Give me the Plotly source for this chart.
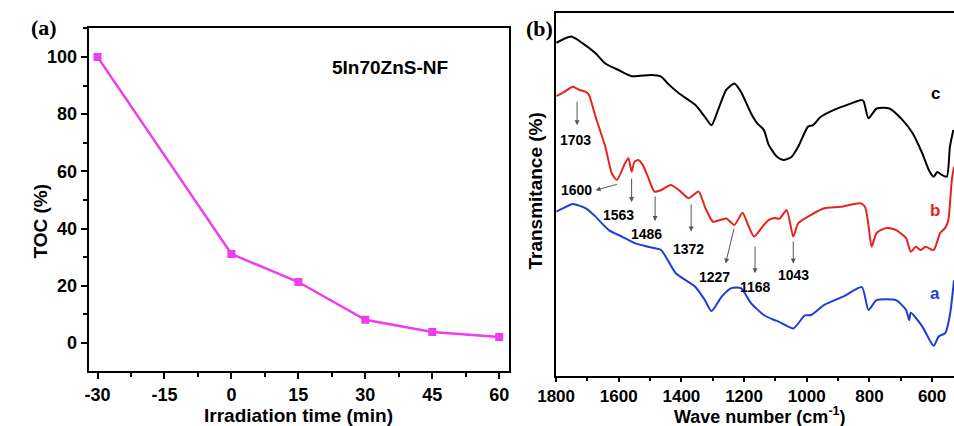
import plotly.graph_objects as go

# ---------------- Panel (a): TOC vs irradiation time ----------------
time_min = [-30, 0, 15, 30, 45, 60]
toc_pct = [100, 31.1, 21.3, 8.1, 3.8, 2.1]
time_ticks = [-30, -15, 0, 15, 30, 45, 60]
time_tick_labels = ["-30", "-15", "0", "15", "30", "45", "60"]
toc_ticks = [0, 20, 40, 60, 80, 100]

# ---------------- Panel (b): FTIR spectra ----------------
wn_c = [1799, 1752, 1716, 1674, 1643, 1601, 1559, 1497, 1465, 1439, 1408, 1377, 1356,
        1325, 1304, 1283, 1257, 1231, 1210, 1178, 1158, 1137, 1121, 1095, 1074, 1048,
        1027, 996, 980, 955, 913, 871, 824, 818, 803, 777, 736, 694, 662, 631, 610,
        595, 583, 569, 553, 543, 532]
t_c = [91.8, 93.5, 91.7, 88.9, 86.1, 84.3, 82.6, 82.9, 82.5, 80.2, 77.9, 76.0, 74.7,
       71.4, 69.1, 73.3, 78.8, 80.6, 78.3, 72.4, 69.6, 67.8, 63.6, 60.4, 59.5, 60.4,
       63.2, 68.7, 69.1, 71.4, 73.3, 74.7, 76.0, 75.6, 71.0, 73.7, 73.7, 70.5, 66.9,
       61.3, 56.7, 54.9, 56.2, 55.4, 54.9, 63.2, 67.8]

wn_b = [1799, 1775, 1747, 1725, 1705, 1695, 1674, 1643, 1622, 1606, 1580, 1569, 1559,
        1550, 1538, 1523, 1507, 1486, 1465, 1434, 1408, 1377, 1345, 1325, 1299, 1257,
        1231, 1205, 1187, 1168, 1137, 1121, 1100, 1087, 1064, 1043, 1027, 986, 944,
        892, 829, 814, 803, 793, 777, 746, 715, 683, 668, 652, 636, 621, 595, 574,
        558, 548, 537, 530]
t_b = [77.1, 78.2, 79.7, 78.8, 78.3, 77.4, 71.4, 63.2, 55.8, 54.0, 58.6, 60.0, 56.3,
       59.0, 59.5, 58.1, 54.9, 50.8, 51.2, 52.6, 51.2, 49.0, 50.8, 46.6, 42.5, 43.4,
       41.6, 45.0, 41.6, 38.4, 41.6, 43.0, 43.5, 43.3, 45.7, 38.4, 42.1, 44.4, 46.2,
       46.6, 47.6, 46.6, 41.6, 35.6, 39.4, 40.8, 40.2, 38.0, 34.2, 35.6, 34.7, 35.6,
       34.7, 39.4, 40.8, 43.0, 54.0, 57.7]

wn_a = [1799, 1775, 1747, 1705, 1674, 1632, 1590, 1549, 1507, 1465, 1418, 1356, 1325,
        1304, 1272, 1241, 1210, 1178, 1137, 1106, 1090, 1043, 1006, 986, 944, 881,
        824, 803, 777, 715, 683, 673, 668, 631, 595, 579, 558, 543, 530]
t_a = [45.3, 46.3, 47.4, 46.2, 43.9, 40.2, 38.4, 36.6, 35.6, 34.7, 28.3, 24.6, 20.9,
       17.9, 21.8, 24.2, 24.2, 20.1, 16.8, 15.5, 15.0, 13.1, 16.7, 16.8, 19.6, 22.0,
       24.5, 18.2, 20.9, 20.9, 18.2, 15.4, 17.4, 13.6, 8.3, 10.9, 11.8, 16.8, 26.4]

peak_labels = ["1703", "1600", "1563", "1486", "1372", "1227", "1168", "1043"]
curve_names = ["a", "b", "c"]

W, H = 954, 426
def px(x):
    return x / W
def py(y):
    return 1 - y / H

MAG = "#ee3cee"
RED = "#e8221e"
BLUE = "#1e3cd8"
SANS = "Liberation Sans"
SERIF = "Liberation Serif"

fig = go.Figure()
fig.add_trace(go.Scatter(x=time_min, y=toc_pct, mode="lines+markers",
                         line=dict(color=MAG, width=2.5),
                         marker=dict(symbol="square", size=8, color=MAG),
                         xaxis="x", yaxis="y", showlegend=False))
for wn, t, col in [(wn_c, t_c, "black"), (wn_b, t_b, RED), (wn_a, t_a, BLUE)]:
    fig.add_trace(go.Scatter(x=wn, y=t, mode="lines",
                             line=dict(color=col, width=2, shape="spline", smoothing=0.6),
                             xaxis="x2", yaxis="y2", showlegend=False))

tfa = dict(family=SANS, size=18, color="black", weight="bold")
tfb = dict(family=SANS, size=17, color="black", weight="bold")

fig.update_layout(
    width=W, height=H, margin=dict(l=0, r=0, t=0, b=0),
    paper_bgcolor="white", plot_bgcolor="white",
    xaxis=dict(domain=[px(71), px(500)], range=[-32, 62.2], showgrid=False, zeroline=False,
               showline=True, linecolor="black", linewidth=2, mirror=True,
               ticks="outside", ticklen=6, tickwidth=2, tickcolor="black",
               tickvals=time_ticks, ticktext=time_tick_labels, tickfont=tfa,
               minor=dict(ticks="outside", dtick=7.5, tick0=0, ticklen=4, tickwidth=2,
                          tickcolor="black", showgrid=False),
               anchor="y"),
    yaxis=dict(domain=[py(371), py(28)], range=[-9.8, 110.1], showgrid=False, zeroline=False,
               showline=True, linecolor="black", linewidth=2, mirror=True,
               ticks="outside", ticklen=6, tickwidth=2, tickcolor="black",
               tickvals=toc_ticks, tickfont=tfa,
               minor=dict(ticks="outside", dtick=10, tick0=0, ticklen=4, tickwidth=2,
                          tickcolor="black", showgrid=False),
               anchor="x"),
    xaxis2=dict(domain=[px(548), 1.0], range=[1800, 530], showgrid=False, zeroline=False,
                showline=True, linecolor="black", linewidth=1.5, mirror=True,
                ticks="outside", ticklen=4, tickwidth=1.5, tickcolor="black",
                tickvals=[1800, 1600, 1400, 1200, 1000, 800, 600], tickfont=tfb,
                minor=dict(ticks="outside", dtick=100, tick0=0, ticklen=3, tickwidth=1.5,
                           tickcolor="black", showgrid=False),
                anchor="y2"),
    yaxis2=dict(domain=[py(376), py(13)], range=[0, 100], showgrid=False, zeroline=False,
                showline=True, linecolor="black", linewidth=1.5, mirror=False,
                showticklabels=False, ticks="", anchor="x2"),
)

ann = []
def text(x, y, s, size=17, color="black", family=SANS, angle=0, bold=True):
    ann.append(dict(x=px(x), y=py(y), xref="paper", yref="paper", text=s, showarrow=False,
                    xanchor="center", yanchor="middle", textangle=angle,
                    font=dict(family=family, size=size, color=color,
                              weight="bold" if bold else "normal")))

text(25, 27, "(a)", size=22, family=SERIF)
text(531, 28, "(b)", size=22, family=SERIF)
text(379, 68, "5In70ZnS-NF", size=19)
text(21, 221, "TOC (%)", size=19, angle=-90)
text(285, 415, "Irradiation time (min)", size=19)
text(527, 191, "Transmitance (%)", size=19, angle=-90)
text(756, 415, "Wave number (cm<sup>-1</sup>)", size=18)

for name, y, col in zip(curve_names, [22.6, 45.7, 77.7], [BLUE, RED, "black"]):
    ann.append(dict(x=590, y=y, xref="x2", yref="y2", text=name, showarrow=False,
                    font=dict(family=SANS, size=17, color=col, weight="bold")))

label_pos = [(1738, 65.0), (1736, 51.2), (1601, 44.4), (1511, 39.0), (1377, 34.9),
             (1293, 27.4), (1163, 24.6), (1043, 27.8)]
arrow_tail = [(1733, 76.0), (1601, 52.9), (1559, 54.8), (1484, 49.9), (1369, 47.7),
              (1231, 41.0), (1165, 36.1), (1043, 37.5)]
arrow_head = [(1733, 69.1), (1674, 51.2), (1559, 47.9), (1484, 42.7), (1369, 39.8),
              (1259, 31.0), (1165, 28.3), (1043, 31.0)]
for lab, lp, tl, hd in zip(peak_labels, label_pos, arrow_tail, arrow_head):
    ann.append(dict(x=lp[0], y=lp[1], xref="x2", yref="y2", text=lab, showarrow=False,
                    font=dict(family=SANS, size=14, color="black", weight="bold")))
    ann.append(dict(x=hd[0], y=hd[1], xref="x2", yref="y2", ax=tl[0], ay=tl[1],
                    axref="x2", ayref="y2", text="", showarrow=True, arrowhead=2,
                    arrowsize=1, arrowwidth=1, arrowcolor="#555555"))

fig.update_layout(annotations=ann)
fig.write_html("out.html")
